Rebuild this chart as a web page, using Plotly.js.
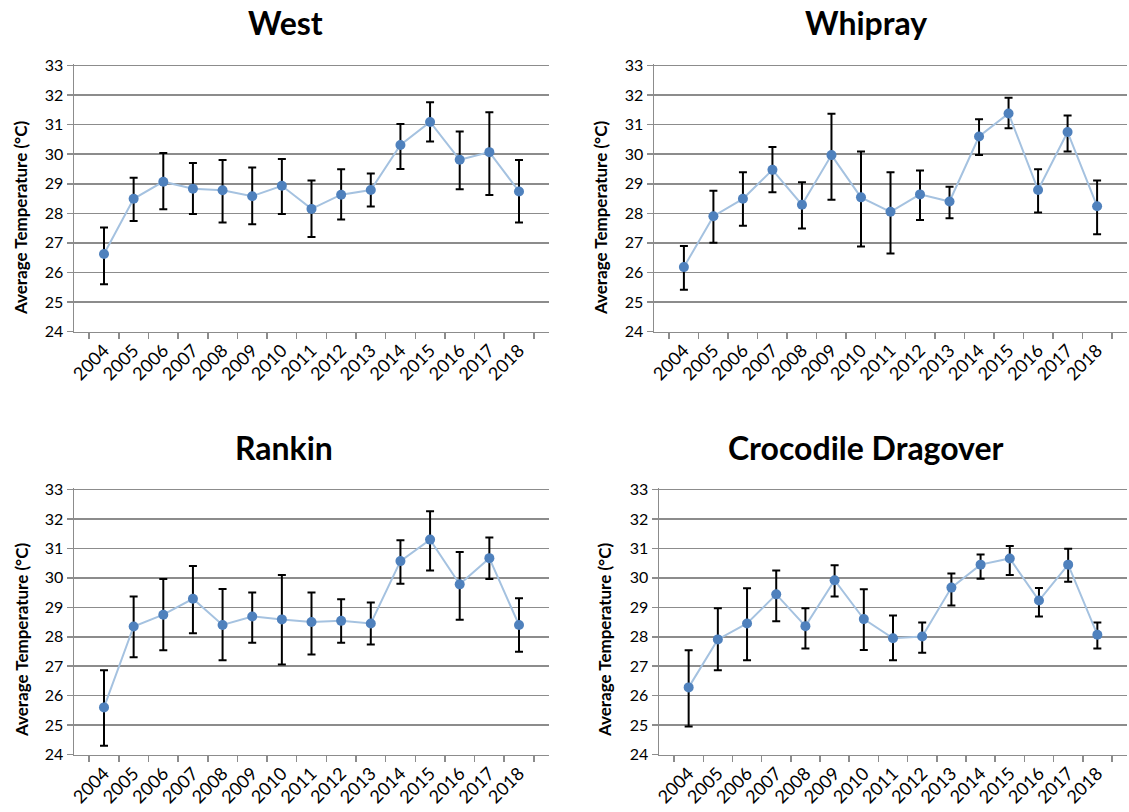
<!DOCTYPE html>
<html>
<head>
<meta charset="utf-8">
<script src="https://cdn.plot.ly/plotly-3.0.1.min.js"></script>
<style>html,body{margin:0;padding:0;background:#fff;}#chart{width:1129px;height:812px;}</style>
</head>
<body>
<div id="chart"></div>
<script>
const years = ["2004","2005","2006","2007","2008","2009","2010","2011","2012","2013","2014","2015","2016","2017","2018"];

const siteNames = ["West", "Whipray", "Rankin", "Crocodile Dragover"];

const westMean  = [26.62, 28.49, 29.07, 28.83, 28.78, 28.58, 28.93, 28.15, 28.63, 28.79, 30.31, 31.09, 29.81, 30.07, 28.74];
const westUpper = [27.52, 29.20, 30.04, 29.70, 29.80, 29.55, 29.84, 29.11, 29.49, 29.35, 31.02, 31.76, 30.77, 31.42, 29.80];
const westLower = [25.60, 27.74, 28.14, 27.98, 27.69, 27.63, 27.98, 27.20, 27.79, 28.23, 29.50, 30.43, 28.81, 28.62, 27.69];

const whiprayMean  = [26.18, 27.90, 28.49, 29.47, 28.29, 29.97, 28.54, 28.05, 28.64, 28.40, 30.60, 31.38, 28.79, 30.75, 28.24];
const whiprayUpper = [26.89, 28.76, 29.39, 30.24, 29.05, 31.37, 30.09, 29.39, 29.45, 28.90, 31.18, 31.91, 29.49, 31.31, 29.11];
const whiprayLower = [25.41, 27.00, 27.58, 28.71, 27.49, 28.46, 26.88, 26.64, 27.77, 27.83, 29.97, 30.88, 28.03, 30.09, 27.29];

const rankinMean  = [25.60, 28.35, 28.75, 29.29, 28.40, 28.69, 28.59, 28.50, 28.54, 28.45, 30.57, 31.30, 29.78, 30.67, 28.40];
const rankinUpper = [26.86, 29.37, 29.96, 30.40, 29.62, 29.50, 30.10, 29.50, 29.27, 29.16, 31.28, 32.26, 30.88, 31.37, 29.31];
const rankinLower = [24.30, 27.30, 27.54, 28.12, 27.20, 27.80, 27.06, 27.40, 27.80, 27.74, 29.80, 30.25, 28.58, 29.96, 27.49];

const crocMean  = [26.28, 27.91, 28.45, 29.44, 28.36, 29.92, 28.60, 27.95, 28.01, 29.67, 30.45, 30.66, 29.23, 30.45, 28.07];
const crocUpper = [27.54, 28.97, 29.65, 30.25, 28.97, 30.43, 29.61, 28.72, 28.48, 30.15, 30.79, 31.08, 29.66, 30.99, 28.48];
const crocLower = [24.95, 26.86, 27.20, 28.53, 27.60, 29.37, 27.55, 27.20, 27.46, 29.06, 29.97, 30.10, 28.69, 29.87, 27.60];

const yTicks = [24, 25, 26, 27, 28, 29, 30, 31, 32, 33];

const W = 1129, H = 812;
const FONT = "Lato, 'Open Sans', sans-serif";

const series = [
  {mean: westMean, up: westUpper, lo: westLower},
  {mean: whiprayMean, up: whiprayUpper, lo: whiprayLower},
  {mean: rankinMean, up: rankinUpper, lo: rankinLower},
  {mean: crocMean, up: crocUpper, lo: crocLower}
];

// pixel boxes for each panel: [left, right, top, bottom]
const boxes = [
  [74, 549, 63.5, 331.5],
  [654, 1127, 63.5, 331.5],
  [74, 549, 487.5, 754.5],
  [659, 1127, 487.5, 754.5]
];
const titlePos = [[285, 22], [866, 22], [284, 447], [866, 447]];
const yTitlePos = [[21, 218], [601, 218], [21, 640], [604, 640]];

const traces = [];
const layout = {
  width: W, height: H,
  margin: {l: 0, r: 0, t: 0, b: 0},
  paper_bgcolor: "#ffffff",
  plot_bgcolor: "#ffffff",
  showlegend: false,
  font: {family: FONT, color: "#000"},
  annotations: []
};

series.forEach((s, i) => {
  const n = i + 1;
  const xa = n === 1 ? "x" : "x" + n;
  const ya = n === 1 ? "y" : "y" + n;
  traces.push({
    type: "scatter",
    mode: "lines+markers",
    x: years,
    y: s.mean,
    xaxis: xa, yaxis: ya,
    line: {color: "#A5C2E0", width: 2},
    marker: {color: "#4F81BD", size: 10},
    error_y: {
      type: "data",
      symmetric: false,
      array: s.up.map((u, k) => u - s.mean[k]),
      arrayminus: s.lo.map((l, k) => s.mean[k] - l),
      color: "#000000",
      thickness: 2,
      width: 4
    },
    hoverinfo: "x+y"
  });
  const b = boxes[i];
  const xName = n === 1 ? "xaxis" : "xaxis" + n;
  const yName = n === 1 ? "yaxis" : "yaxis" + n;
  layout[xName] = {
    domain: [b[0] / W, b[1] / W],
    anchor: ya,
    type: "category",
    tickangle: -45,
    tickfont: {size: 18, family: FONT, color: "#000"},
    ticks: "outside",
    tickson: "boundaries",
    ticklen: 6,
    tickcolor: "#8c8c8c",
    tickwidth: 1.5,
    showline: true,
    linecolor: "#8c8c8c",
    linewidth: 1.5,
    showgrid: false,
    zeroline: false,
    fixedrange: true
  };
  layout[yName] = {
    domain: [1 - b[3] / H, 1 - b[2] / H],
    anchor: xa,
    range: [24, 33.07],
    tickvals: yTicks,
    ticktext: yTicks.map(String),
    tickfont: {size: 16, family: FONT, color: "#000"},
    ticks: "outside",
    ticklen: 6,
    tickcolor: "#8c8c8c",
    tickwidth: 1.5,
    showline: true,
    linecolor: "#8c8c8c",
    linewidth: 1.5,
    showgrid: true,
    gridcolor: "#8c8c8c",
    gridwidth: 1.5,
    zeroline: false,
    fixedrange: true
  };
  layout.annotations.push({
    xref: "paper", yref: "paper",
    x: titlePos[i][0] / W, y: 1 - titlePos[i][1] / H,
    xanchor: "center", yanchor: "middle",
    text: "<b>" + siteNames[i] + "</b>",
    showarrow: false,
    font: {size: 32, family: FONT, color: "#000"}
  });
  layout.annotations.push({
    xref: "paper", yref: "paper",
    x: yTitlePos[i][0] / W, y: 1 - yTitlePos[i][1] / H,
    xanchor: "center", yanchor: "middle",
    textangle: -90,
    text: "<b>Average Temperature (°C)</b>",
    showarrow: false,
    font: {size: 17, family: FONT, color: "#000"}
  });
});

Plotly.newPlot("chart", traces, layout, {displayModeBar: false, staticPlot: true});
</script>
</body>
</html>
